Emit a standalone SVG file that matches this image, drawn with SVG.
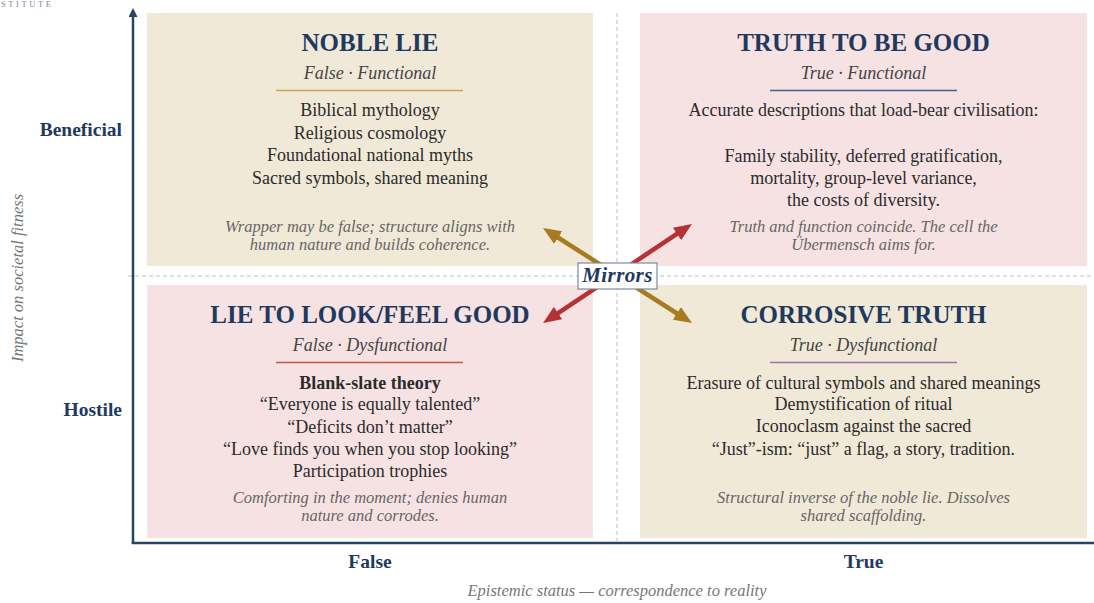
<svg xmlns="http://www.w3.org/2000/svg" width="1094" height="603" viewBox="0 0 1094 603">
  <style>
    text { font-family: "Liberation Serif", "Times New Roman", serif; }
    .title { font-size: 25px; font-weight: bold; fill: #1f3a5f; text-anchor: middle; }
    .sub { font-size: 18px; font-style: italic; fill: #444444; text-anchor: middle; }
    .body { font-size: 18px; fill: #2b2b2b; text-anchor: middle; }
    .bold { font-weight: bold; }
    .note { font-size: 16.5px; font-style: italic; fill: #666666; text-anchor: middle; }
    .axis-cat { font-size: 19.5px; font-weight: bold; fill: #1f3a5f; }
    .axis-title { font-size: 16.5px; font-style: italic; fill: #777777; text-anchor: middle; }
    .beige { fill: #f1e9d8; }
    .pink { fill: #f6e2e3; }
    .grid { stroke: #bdbdbd; stroke-width: 1; stroke-dasharray: 4 3; fill: none; }
    .axis { stroke: #264466; stroke-width: 2.5; fill: none; }
    .rule { stroke-width: 1.6; }
  </style>
  <defs>
    <marker id="headGold" markerUnits="userSpaceOnUse" markerWidth="18" markerHeight="15" viewBox="0 0 18 15" refX="4" refY="7.5" orient="auto-start-reverse">
      <path d="M0,0 L18,7.5 L0,15 z" fill="#a87b20"/>
    </marker>
    <marker id="headRed" markerUnits="userSpaceOnUse" markerWidth="18" markerHeight="15" viewBox="0 0 18 15" refX="4" refY="7.5" orient="auto-start-reverse">
      <path d="M0,0 L18,7.5 L0,15 z" fill="#b63133"/>
    </marker>
    <marker id="headAxis" markerUnits="userSpaceOnUse" markerWidth="9" markerHeight="9" viewBox="0 0 9 9" refX="1" refY="4.5" orient="auto">
      <path d="M0,0 L9,4.5 L0,9 z" fill="#264466"/>
    </marker>
  </defs>

  <!-- header fragment -->
  <text x="1" y="6.5" font-size="8.5" letter-spacing="2.6" fill="#7a8aa0">STITUTE</text>

  <!-- quadrant backgrounds -->
  <g id="backgrounds">
    <rect class="beige" x="147" y="13" width="446" height="253"/>
    <rect class="pink" x="640" y="13" width="447" height="253"/>
    <rect class="pink" x="147" y="285" width="446" height="253"/>
    <rect class="beige" x="640" y="285" width="447" height="253"/>
  </g>

  <!-- dashed midlines -->
  <g id="gridlines">
    <line class="grid" x1="617" y1="13" x2="617" y2="541"/>
    <line class="grid" x1="128" y1="276" x2="1094" y2="276"/>
  </g>

  <!-- axes -->
  <g id="axes">
    <line class="axis" x1="133" y1="544" x2="133" y2="16" marker-end="url(#headAxis)"/>
    <line class="axis" x1="131.75" y1="543" x2="1094" y2="543"/>
    <text class="axis-cat" x="122" y="136" text-anchor="end">Beneficial</text>
    <text class="axis-cat" x="122" y="416" text-anchor="end">Hostile</text>
    <text class="axis-title" transform="translate(22.5,278) rotate(-90)">Impact on societal fitness</text>
    <text class="axis-cat" x="370" y="568" text-anchor="middle">False</text>
    <text class="axis-cat" x="863.5" y="568" text-anchor="middle">True</text>
    <text class="axis-title" x="617" y="596">Epistemic status — correspondence to reality</text>
  </g>

  <!-- top-left: noble lie -->
  <g id="noble-lie">
    <text class="title" x="370" y="51">NOBLE LIE</text>
    <text class="sub" x="370" y="79">False · Functional</text>
    <line class="rule" x1="276" y1="90.5" x2="463" y2="90.5" stroke="#c9a55a"/>
    <text class="body" x="370" y="116">Biblical mythology</text>
    <text class="body" x="370" y="138.5">Religious cosmology</text>
    <text class="body" x="370" y="161">Foundational national myths</text>
    <text class="body" x="370" y="183.5">Sacred symbols, shared meaning</text>
    <text class="note" x="370" y="231.5">Wrapper may be false; structure aligns with</text>
    <text class="note" x="370" y="250">human nature and builds coherence.</text>
  </g>

  <!-- top-right: truth to be good -->
  <g id="truth-to-be-good">
    <text class="title" x="863.5" y="51">TRUTH TO BE GOOD</text>
    <text class="sub" x="863.5" y="79">True · Functional</text>
    <line class="rule" x1="770" y1="90.5" x2="957" y2="90.5" stroke="#4a5f85"/>
    <text class="body" x="863.5" y="116">Accurate descriptions that load-bear civilisation:</text>
    <text class="body" x="863.5" y="161.5">Family stability, deferred gratification,</text>
    <text class="body" x="863.5" y="183.5">mortality, group-level variance,</text>
    <text class="body" x="863.5" y="205.5">the costs of diversity.</text>
    <text class="note" x="863.5" y="231.5">Truth and function coincide. The cell the</text>
    <text class="note" x="863.5" y="249.5">Übermensch aims for.</text>
  </g>

  <!-- bottom-left: lie to look/feel good -->
  <g id="lie-to-feel-good">
    <text class="title" x="370" y="323">LIE TO LOOK/FEEL GOOD</text>
    <text class="sub" x="370" y="351">False · Dysfunctional</text>
    <line class="rule" x1="276" y1="362.5" x2="463" y2="362.5" stroke="#c9544f"/>
    <text class="body bold" x="370" y="388.5">Blank-slate theory</text>
    <text class="body" x="370" y="410">“Everyone is equally talented”</text>
    <text class="body" x="370" y="432.5">“Deficits don’t matter”</text>
    <text class="body" x="370" y="455">“Love finds you when you stop looking”</text>
    <text class="body" x="370" y="476.5">Participation trophies</text>
    <text class="note" x="370" y="502.5">Comforting in the moment; denies human</text>
    <text class="note" x="370" y="520.5">nature and corrodes.</text>
  </g>

  <!-- bottom-right: corrosive truth -->
  <g id="corrosive-truth">
    <text class="title" x="863.5" y="323">CORROSIVE TRUTH</text>
    <text class="sub" x="863.5" y="351">True · Dysfunctional</text>
    <line class="rule" x1="770" y1="362.5" x2="957" y2="362.5" stroke="#9a73a8"/>
    <text class="body" x="863.5" y="388.5">Erasure of cultural symbols and shared meanings</text>
    <text class="body" x="863.5" y="410">Demystification of ritual</text>
    <text class="body" x="863.5" y="432">Iconoclasm against the sacred</text>
    <text class="body" x="863.5" y="455">“Just”-ism: “just” a flag, a story, tradition.</text>
    <text class="note" x="863.5" y="502.5">Structural inverse of the noble lie. Dissolves</text>
    <text class="note" x="863.5" y="520.5">shared scaffolding.</text>
  </g>

  <!-- mirror connectors -->
  <g id="connectors">
    <line x1="554.8" y1="235.5" x2="680.2" y2="315.5" stroke="#a87b20" stroke-width="4.5" marker-start="url(#headGold)" marker-end="url(#headGold)"/>
    <line x1="554.7" y1="315.3" x2="680.3" y2="231.7" stroke="#b63133" stroke-width="4.5" marker-start="url(#headRed)" marker-end="url(#headRed)"/>
  </g>

  <!-- centre label -->
  <g id="mirrors">
    <rect x="578" y="263" width="79" height="26" fill="#ffffff" stroke="#7a8aa3" stroke-width="1.2"/>
    <text x="617.5" y="282" font-size="21" font-weight="bold" font-style="italic" letter-spacing="0.4" fill="#1f3a5f" text-anchor="middle">Mirrors</text>
  </g>
</svg>
